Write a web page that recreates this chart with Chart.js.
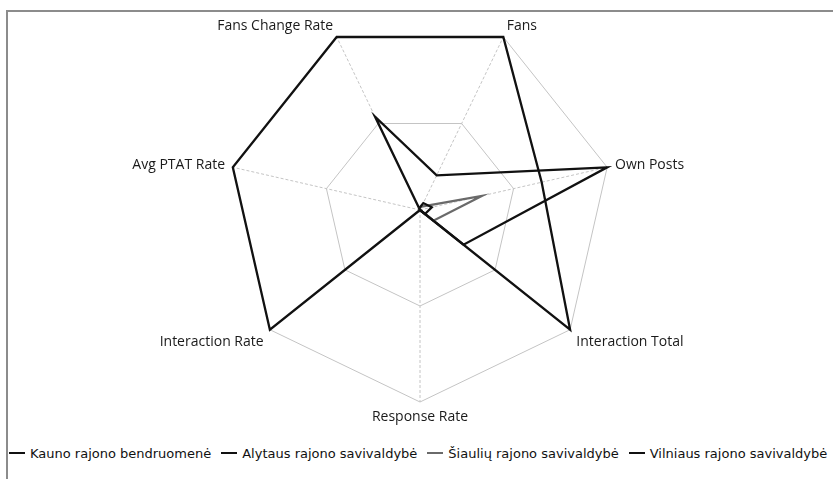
<!DOCTYPE html>
<html>
<head>
<meta charset="utf-8">
<script src="https://cdn.jsdelivr.net/npm/chart.js@4/dist/chart.umd.min.js"></script>
<style>
    html, body { margin: 0; padding: 0; background: #fff; }
    #wrap { position: relative; width: 833px; height: 479px; overflow: hidden; }
    #frame {
        position: absolute; left: 6px; top: 10px; right: -10px; bottom: -10px;
        border-top: 2px solid #8c8c8c; border-left: 2px solid #8c8c8c;
        pointer-events: none;
    }
    #chart-box { position: absolute; left: 0; top: 0; width: 833px; height: 440px; }
    #legend {
        position: absolute; left: 9px; top: 442px; white-space: nowrap;
        font: 13px "DejaVu Sans", sans-serif; color: #111;
    }
    #legend span.item { display: inline-flex; align-items: center; margin-right: 10px; height: 18px; }
    #legend span.dash { display: inline-block; width: 16px; height: 2px; margin-right: 5px; }
</style>
</head>
<body>
<div id="wrap">
    <div id="chart-box"><canvas id="radar"></canvas></div>
    <div id="legend"></div>
    <div id="frame"></div>
</div>
<script>
// axes, clockwise from the bottom spoke
const axes = ['Response Rate', 'Interaction Rate', 'Avg PTAT Rate', 'Fans Change Rate', 'Fans', 'Own Posts', 'Interaction Total'];

const seriesNames = ['Kauno rajono bendruomenė', 'Alytaus rajono savivaldybė', 'Šiaulių rajono savivaldybė', 'Vilniaus rajono savivaldybė'];
const seriesColors = ['#111111', '#111111', '#6a6a6a', '#111111'];

// normalised values (0..1), same order as axes
const kaunoValues    = [0, 1, 1, 1, 1, 0.65, 1];
const alytausValues  = [0, 0, 0, 0.01, 0.04, 0.063, 0.033];
const siauliuValues  = [0, 0, 0, 0.01, 0.02, 0.33, 0.089];
const vilniausValues = [0, 0, 0, 0.54, 0.2, 1, 0.29];

const seriesValues = [kaunoValues, alytausValues, siauliuValues, vilniausValues];

// point labels drawn around the outer ring
const axisLabelsPlugin = {
    id: 'axisLabels',
    afterDraw(chart) {
        const scale = chart.scales.r;
        const ctx = chart.ctx;
        ctx.save();
        ctx.font = '14px "Open Sans", sans-serif';
        ctx.fillStyle = '#1a1a1a';
        axes.forEach((label, i) => {
            const p = scale.getPointPosition(i, scale.drawingArea + 8);
            const dx = p.x - scale.xCenter;
            const dy = p.y - scale.yCenter;
            ctx.textAlign = Math.abs(dx) < 2 ? 'center' : (dx > 0 ? 'left' : 'right');
            if (Math.abs(dy) < scale.drawingArea * 0.3) ctx.textBaseline = 'middle';
            else ctx.textBaseline = dy < 0 ? 'alphabetic' : 'top';
            ctx.fillText(label, p.x, p.y);
        });
        ctx.restore();
    }
};

const datasets = seriesNames.map((name, i) => ({
    label: name,
    data: seriesValues[i],
    borderColor: seriesColors[i],
    backgroundColor: 'transparent',
    borderWidth: 2.3,
    pointRadius: 0,
    fill: false,
    tension: 0
}));

new Chart(document.getElementById('radar'), {
    type: 'radar',
    data: { labels: axes, datasets: datasets },
    options: {
        responsive: true,
        maintainAspectRatio: false,
        animation: false,
        layout: { padding: { left: 200, right: 193, top: 18, bottom: 38 } },
        scales: {
            r: {
                min: 0,
                max: 1,
                startAngle: 180,
                ticks: { display: false, stepSize: 0.5 },
                pointLabels: { display: false },
                grid: { color: '#c4c4c4', lineWidth: 1, borderDash: [3, 2] },
                angleLines: { color: '#c4c4c4', lineWidth: 1, borderDash: [3, 2] }
            }
        },
        plugins: {
            legend: { display: false },
            tooltip: { enabled: false }
        }
    },
    plugins: [axisLabelsPlugin]
});

// legend under the chart
const legend = document.getElementById('legend');
seriesNames.forEach((name, i) => {
    const item = document.createElement('span');
    item.className = 'item';
    item.innerHTML = `<span class="dash" style="background:${seriesColors[i]}"></span>${name}`;
    legend.appendChild(item);
});
</script>
</body>
</html>
